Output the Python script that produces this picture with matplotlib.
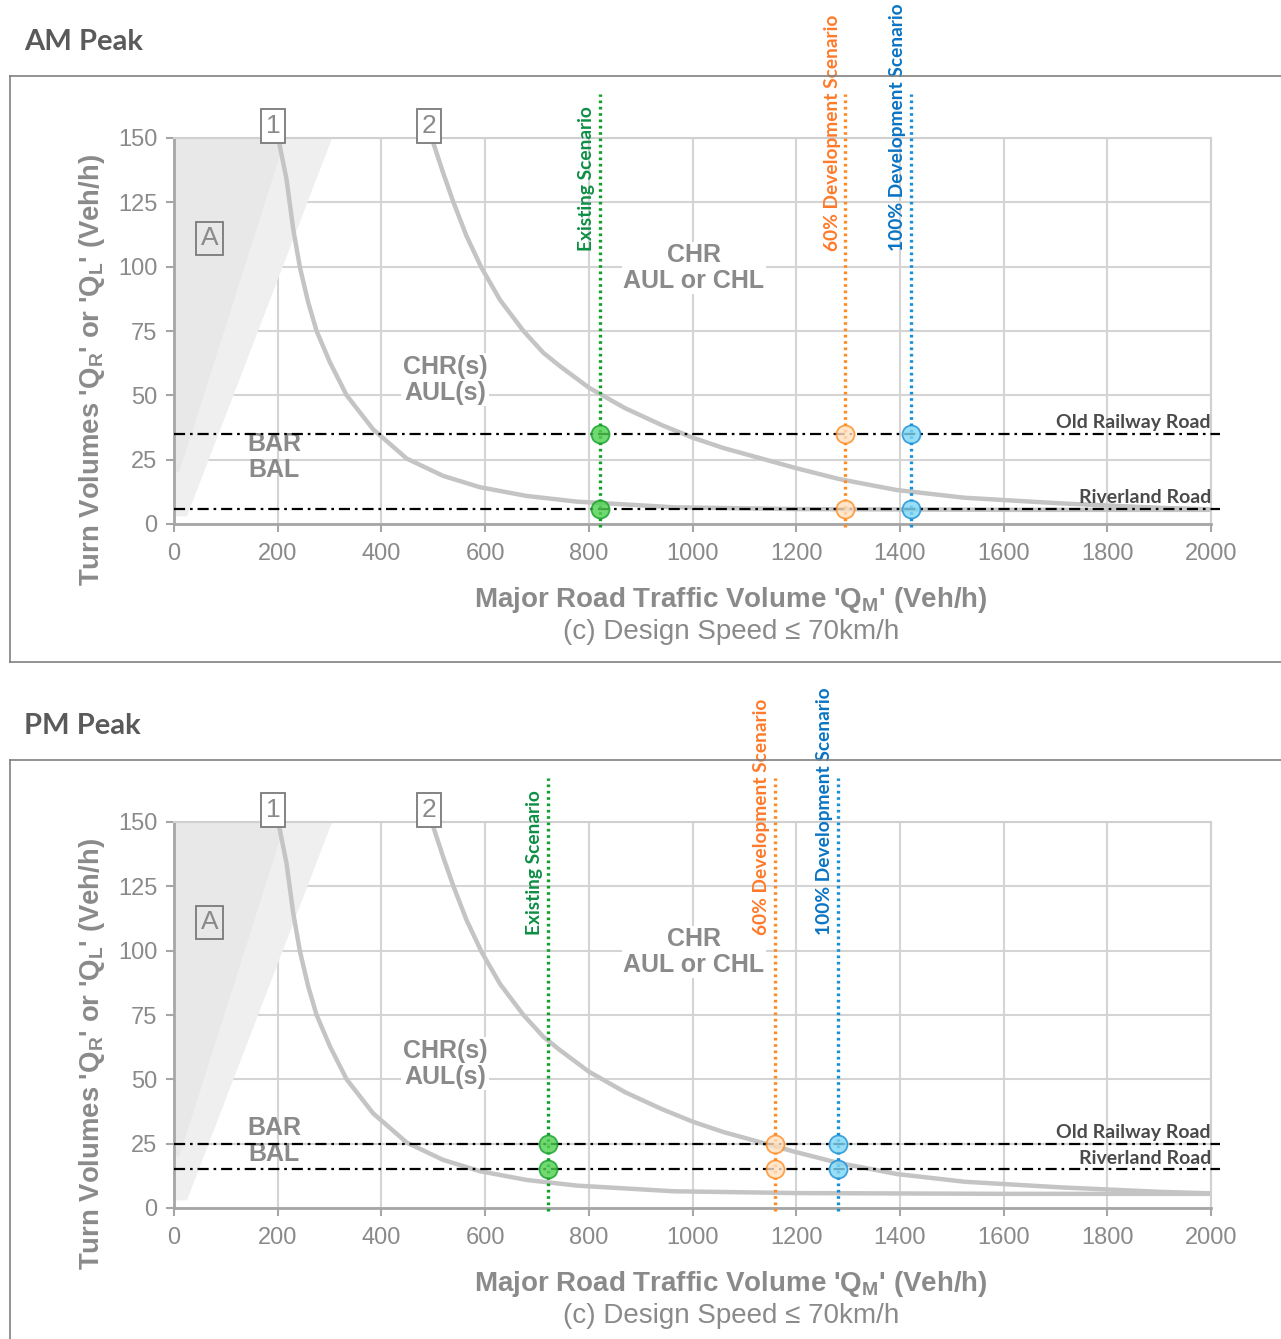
import matplotlib
matplotlib.use('Agg')
import matplotlib.pyplot as plt
from matplotlib.lines import Line2D

# Warrant curves (same background chart in both panels)
curve1_x = [201, 217, 230, 243, 259, 275, 301, 333, 384, 449, 519, 590, 680, 777, 964, 1200, 1600, 2000]
curve1_y = [150, 134, 114.5, 99.6, 86, 75, 62.7, 50, 36.8, 25.4, 18.7, 14.3, 10.9, 8.7, 6.5, 5.8, 5.5, 5.5]
curve2_x = [497, 519, 539, 564, 593, 629, 674, 712, 744, 800, 870, 940, 1001, 1060, 1123, 1198, 1282,
            1394, 1525, 1712, 1899, 2000]
curve2_y = [150, 136.5, 125, 112, 99.6, 87, 75, 66.6, 61.4, 53, 45, 38.5, 33.5, 29.5, 26, 21.8, 17.5,
            13.2, 10.2, 8, 6.3, 5.7]
zone_a_x = [0, 0, 305, 25]
zone_a_y = [3, 150, 150, 3]
zone_a2_x = [0, 0, 215, 10]
zone_a2_y = [20, 150, 150, 20]

scen_names = ['Existing Scenario', '60% Development Scenario', '100% Development Scenario']
road_names = ['Old Railway Road', 'Riverland Road']
am_scen = [822, 1295, 1421]
pm_scen = [721, 1159, 1281]
am_roads = [35, 6]
pm_roads = [25, 15]

xticks = [0, 200, 400, 600, 800, 1000, 1200, 1400, 1600, 1800, 2000]
yticks = [0, 25, 50, 75, 100, 125, 150]

line_cols = ['#13a02a', '#ff8a1f', '#1a8fd6']
text_cols = ['#0e8f45', '#ff7a2a', '#0a74c4']
fill_cols = ['#4fd04f', '#ffe0c0', '#7fd6f5']

W, H = 1281, 1339
fig = plt.figure(figsize=(W / 100, H / 100), dpi=100)

arial = ['Liberation Sans', 'DejaVu Sans']
calibri = ['Lato', 'DejaVu Sans']
grey = '#8a8a8a'


def fx(px):
    return px / W


def fy(py):
    return 1 - py / H


def panel(top_px, scen, roads, title):
    off = top_px - 138
    ax = fig.add_axes([fx(174), fy(524 + off), fx(1211) - fx(174), fy(138 + off) - fy(524 + off)])
    ax.set_xlim(0, 2000)
    ax.set_ylim(0, 150)
    ax.set_xticks(xticks)
    ax.set_yticks(yticks)
    ax.grid(True, color='#d4d4d4', lw=1.5)
    ax.set_axisbelow(True)
    for s in ['top', 'right']:
        ax.spines[s].set_color('#d0d0d0')
        ax.spines[s].set_linewidth(1.5)
    for s in ['left', 'bottom']:
        ax.spines[s].set_color('#a6a6a6')
        ax.spines[s].set_linewidth(2)
    ax.tick_params(direction='out', length=6, width=1.5, color='#a6a6a6', labelcolor=grey, labelsize=17)
    ax.tick_params(axis='y', pad=6)
    ax.tick_params(axis='x', pad=8)
    for lab in ax.get_xticklabels() + ax.get_yticklabels():
        lab.set_family(arial)

    ax.fill(zone_a_x, zone_a_y, color='#efefef', lw=0, zorder=1)
    ax.fill(zone_a2_x, zone_a2_y, color='#e8e8e8', lw=0, zorder=1)
    ax.plot(curve1_x, curve1_y, color='#c4c4c4', lw=3.2, zorder=2, solid_capstyle='round')
    ax.plot(curve2_x, curve2_y, color='#c4c4c4', lw=3.2, zorder=2, solid_capstyle='round')

    box = dict(boxstyle='square,pad=0.18', fc='white', ec='#7a7a7a', lw=1.3)
    ax.text(191, 150, '1', ha='center', va='bottom', fontsize=19, color=grey, family=arial, bbox=box,
            clip_on=False, zorder=5)
    ax.text(492, 150, '2', ha='center', va='bottom', fontsize=19, color=grey, family=arial, bbox=box,
            clip_on=False, zorder=5)
    ax.text(69, 111, 'A', ha='center', va='center', fontsize=19, color=grey, family=arial,
            bbox=dict(boxstyle='square,pad=0.18', fc='none', ec='#7a7a7a', lw=1.3), zorder=5)

    lab = dict(ha='center', va='center', fontsize=18, color='#8a8a8a', fontweight='bold', family=arial,
               linespacing=1.1, zorder=3)
    ax.text(1003, 99.5, 'CHR\nAUL or CHL', bbox=dict(fc='white', ec='none', pad=1), **lab)
    ax.text(523, 56, 'CHR(s)\nAUL(s)', bbox=dict(fc='white', ec='none', pad=1), **lab)
    ax.text(193, 26, 'BAR\nBAL', **lab)

    for ry, name in zip(roads, road_names):
        ax.plot([0, 2018], [ry, ry], color='black', lw=1.6, ls=(0, (5, 2.2, 1.2, 2.2)), clip_on=False, zorder=4)
        ax.annotate(name, (2000, ry), xytext=(0, 2), textcoords='offset points', ha='right', va='bottom',
                    fontsize=14, color='#4a4a4a', fontweight='bold', family=calibri, zorder=6)

    for sx, name, lc, tc, fc in zip(scen, scen_names, line_cols, text_cols, fill_cols):
        ax.plot([sx, sx], [-1, 167], color=lc, lw=2.4, ls=(0, (0.8, 1.1)), clip_on=False, zorder=5)
        ax.plot([sx, sx], roads, 'o', ms=13, mfc=fc, mec=lc, mew=1.3, alpha=0.8, clip_on=False, zorder=6)
        ax.annotate(name, (sx, 106), xytext=(-3.5, 0), textcoords='offset points', rotation=90,
                    rotation_mode='anchor', ha='left', va='bottom', fontsize=13.8, color=tc,
                    fontweight='bold', family=calibri, annotation_clip=False)

    fig.text(fx(24), fy(42 + off), title, ha='left', va='center', fontsize=21, fontweight='bold',
             color='#5a5a5a', family=calibri)
    fig.text(fx(92), fy(370 + off), "Turn Volumes 'Q$_\\mathregular{R}$' or 'Q$_\\mathregular{L}$' (Veh/h)",
             rotation=90, ha='center', va='center', fontsize=19.8, fontweight='bold', color=grey, family=arial)
    fig.text(fx(731), fy(600 + off), "Major Road Traffic Volume 'Q$_\\mathregular{M}$' (Veh/h)",
             ha='center', va='center', fontsize=20, fontweight='bold', color=grey, family=arial)
    fig.text(fx(731), fy(632 + off), '(c) Design Speed \u2264 70km/h', ha='center', va='center',
             fontsize=20, color=grey, family=arial)

    # outer frame
    fig.add_artist(Line2D([fx(10), 1], [fy(76 + off), fy(76 + off)], color='#808080', lw=1.2))
    fig.add_artist(Line2D([fx(10), fx(10)], [fy(76 + off), fy(662 + off)], color='#808080', lw=1.2))
    fig.add_artist(Line2D([fx(10), 1], [fy(662 + off), fy(662 + off)], color='#808080', lw=1.2))
    return ax


panel(138, am_scen, am_roads, 'AM Peak')
panel(822, pm_scen, pm_roads, 'PM Peak')

fig.savefig('out.png', dpi=100)
